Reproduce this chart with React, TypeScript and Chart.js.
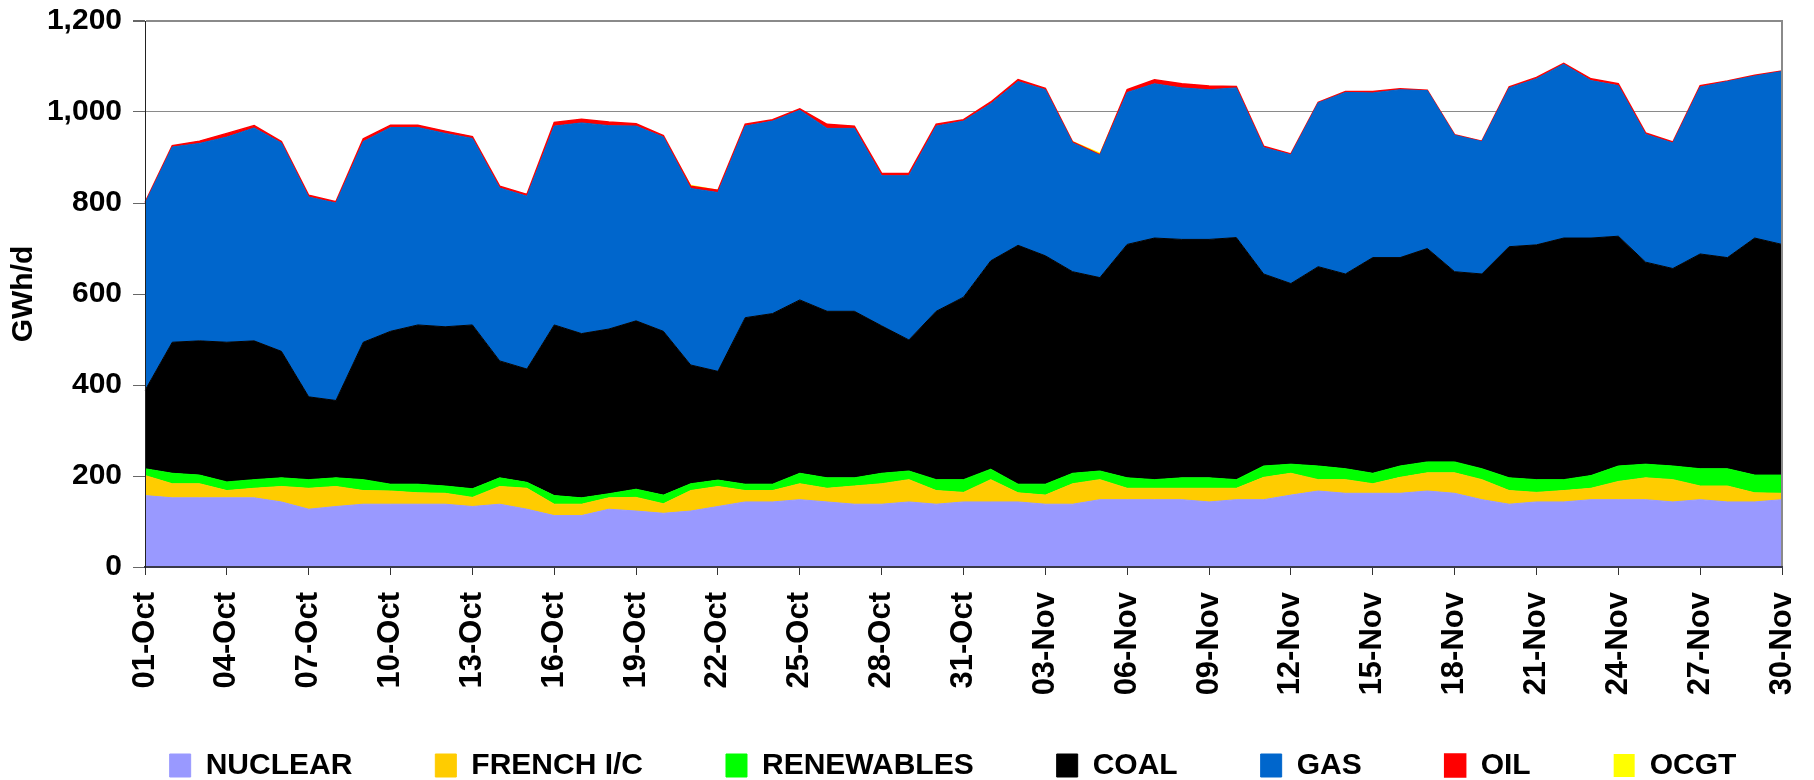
import React, { useEffect, useRef } from "react";
import { Chart, registerables } from "chart.js";

Chart.register(...registerables);

const dates = [
  "01-Oct","02-Oct","03-Oct","04-Oct","05-Oct","06-Oct","07-Oct","08-Oct","09-Oct","10-Oct",
  "11-Oct","12-Oct","13-Oct","14-Oct","15-Oct","16-Oct","17-Oct","18-Oct","19-Oct","20-Oct",
  "21-Oct","22-Oct","23-Oct","24-Oct","25-Oct","26-Oct","27-Oct","28-Oct","29-Oct","30-Oct",
  "31-Oct","01-Nov","02-Nov","03-Nov","04-Nov","05-Nov","06-Nov","07-Nov","08-Nov","09-Nov",
  "10-Nov","11-Nov","12-Nov","13-Nov","14-Nov","15-Nov","16-Nov","17-Nov","18-Nov","19-Nov",
  "20-Nov","21-Nov","22-Nov","23-Nov","24-Nov","25-Nov","26-Nov","27-Nov","28-Nov","29-Nov",
  "30-Nov",
];

const nuclear = [157,152,152,152,152,143,127,133,138,138,138,138,133,138,127,113,113,127,123,118,123,133,143,143,148,143,138,138,143,138,143,143,143,138,138,148,148,148,148,143,148,148,158,167,162,162,162,167,162,148,138,143,143,148,148,148,143,148,143,143,148];
const frenchIC = [44,31,31,16,21,34,46,44,30,29,25,24,20,39,46,25,25,25,30,21,45,44,25,25,35,30,40,45,49,30,21,49,20,20,45,44,25,25,25,30,25,49,48,25,30,21,35,40,45,44,30,21,25,25,40,48,49,30,35,20,14];
const renewables = [15,23,19,19,19,19,19,19,24,15,19,16,19,19,13,19,14,9,18,19,15,14,14,14,23,23,18,23,19,24,28,23,19,24,23,19,23,19,23,23,19,25,20,30,24,23,25,24,24,24,28,28,24,28,34,30,30,38,38,39,40];
const coal = [172,288,295,307,305,278,182,170,302,336,350,350,360,257,249,375,361,362,370,360,261,239,366,375,381,366,366,324,288,370,401,458,525,502,443,425,513,531,524,524,532,422,397,438,428,474,458,469,418,428,508,516,531,522,505,444,434,472,464,521,507];
const gas = [411,429,434,451,468,458,439,434,441,448,434,425,410,380,380,437,463,447,428,427,388,393,421,423,417,402,402,330,361,407,387,345,360,365,283,269,334,339,333,329,329,278,283,360,399,362,369,347,300,291,349,365,382,346,331,281,276,367,387,356,380];
const oil = [2,3,5,8,5,3,4,3,6,5,5,5,4,4,4,8,8,8,5,3,5,5,4,3,3,9,5,5,5,4,3,4,4,3,2,1,6,9,9,8,3,3,2,1,2,3,2,1,1,1,2,3,2,4,4,3,2,3,1,2,1];
const ocgt = [1,0,0,0,0,0,0,0,0,0,0,0,0,0,0,0,0,0,0,0,3,1,0,0,0,0,0,0,0,0,0,0,0,0,2,5,0,0,0,0,0,0,0,0,0,0,0,0,0,0,0,0,0,0,0,0,0,0,0,0,0];

const yTicks = [0, 200, 400, 600, 800, 1000, 1200];

const FONT = '"Liberation Sans", Arial, Helvetica, sans-serif';

const series = [
  { label: "NUCLEAR", data: nuclear, color: "#9999FF", bw: 1 },
  { label: "FRENCH I/C", data: frenchIC, color: "#FFCC00", bw: 1 },
  { label: "RENEWABLES", data: renewables, color: "#00FF00", bw: 1 },
  { label: "COAL", data: coal, color: "#000000", bw: 1 },
  { label: "GAS", data: gas, color: "#0066CC", bw: 1 },
  { label: "OIL", data: oil, color: "#FF0000", bw: 1.5 },
  { label: "OCGT", data: ocgt, color: "#FFFF00", bw: 0 },
];

const LEGEND_DX = 62;
const LEGEND_DY = 10.5;

const layoutTweak = {
  id: "layoutTweak",
  afterLayout(chart: any) {
    const lg = chart.legend;
    if (lg) {
      lg.left += LEGEND_DX;
      lg.right += LEGEND_DX;
      lg.top += LEGEND_DY;
      lg.bottom += LEGEND_DY;
    }
    const xs = chart.scales.x;
    if (xs) xs.bottom = chart.height;
  },
};

const rightBorder = {
  id: "rightBorder",
  afterDatasetsDraw(chart: any) {
    const { ctx, chartArea } = chart;
    ctx.save();
    ctx.strokeStyle = "#8a8a8a";
    ctx.lineWidth = 2;
    ctx.beginPath();
    ctx.moveTo(chartArea.right, chartArea.top - 1);
    ctx.lineTo(chartArea.right, chartArea.bottom);
    ctx.stroke();
    ctx.restore();
  },
};

export default function App() {
  const ref = useRef<HTMLCanvasElement>(null);

  useEffect(() => {
    if (!ref.current) return;
    const chart = new Chart(ref.current, {
      type: "line",
      data: {
        labels: dates,
        datasets: series.map((s, i) => ({
          label: s.label,
          data: s.data,
          backgroundColor: s.color,
          borderColor: s.color,
          borderWidth: s.bw,
          fill: i === 0 ? "origin" : "-1",
          pointRadius: 0,
          pointHoverRadius: 0,
          tension: 0,
        })),
      },
      options: {
        responsive: false,
        animation: false,
        devicePixelRatio: 1,
        layout: { padding: { top: 21, right: 32, left: 0, bottom: 0 } },
        plugins: {
          tooltip: { enabled: false },
          legend: {
            position: "bottom",
            align: "center",
            labels: {
              color: "#000",
              font: { family: FONT, size: 30, weight: "bold" },
              boxWidth: 21,
              boxHeight: 23,
              padding: 83,
            },
          },
        },
        scales: {
          x: {
            type: "category",
            offset: false,
            afterFit: (scale: any) => {
              scale.height = 90;
              scale.paddingLeft = 0;
              scale.paddingRight = 0;
            },
            grid: {
              display: true,
              drawOnChartArea: false,
              drawTicks: true,
              tickLength: 8,
              tickColor: "#333",
            },
            border: { display: true, color: "#3a3a4a", width: 2, z: 1 },
            ticks: {
              autoSkip: false,
              minRotation: 90,
              maxRotation: 90,
              padding: 17,
              color: "#000",
              font: { family: FONT, size: 31, weight: "bold" },
              callback: (_v: any, index: number) => (index % 3 === 0 ? dates[index] : null),
            },
          },
          y: {
            stacked: true,
            min: yTicks[0],
            max: yTicks[yTicks.length - 1],
            afterFit: (scale: any) => {
              scale.width = 145;
              scale.paddingTop = 0;
              scale.paddingBottom = 0;
            },
            afterBuildTicks: (scale: any) => {
              scale.ticks = yTicks.map((v) => ({ value: v }));
            },
            grid: {
              color: "#8a8a8a",
              lineWidth: (c: any) => (c.tick && c.tick.value === yTicks[yTicks.length - 1] ? 2 : 1),
              tickLength: 12,
              tickColor: "#666",
            },
            border: { display: true, color: "#222", width: 1, z: 1 },
            ticks: {
              padding: 11,
              color: "#000",
              font: { family: FONT, size: 30, weight: "bold" },
            },
            title: {
              display: true,
              text: "GWh/d",
              color: "#000",
              font: { family: FONT, size: 30, weight: "bold" },
              padding: { top: 6, bottom: 0 },
            },
          },
        },
      },
      plugins: [layoutTweak, rightBorder],
    } as any);
    return () => chart.destroy();
  }, []);

  return (
    <div style={{ position: "fixed", left: 0, top: 0, width: 1814, height: 780, background: "#fff" }}>
      <canvas ref={ref} width={1814} height={780} style={{ display: "block" }} />
    </div>
  );
}
